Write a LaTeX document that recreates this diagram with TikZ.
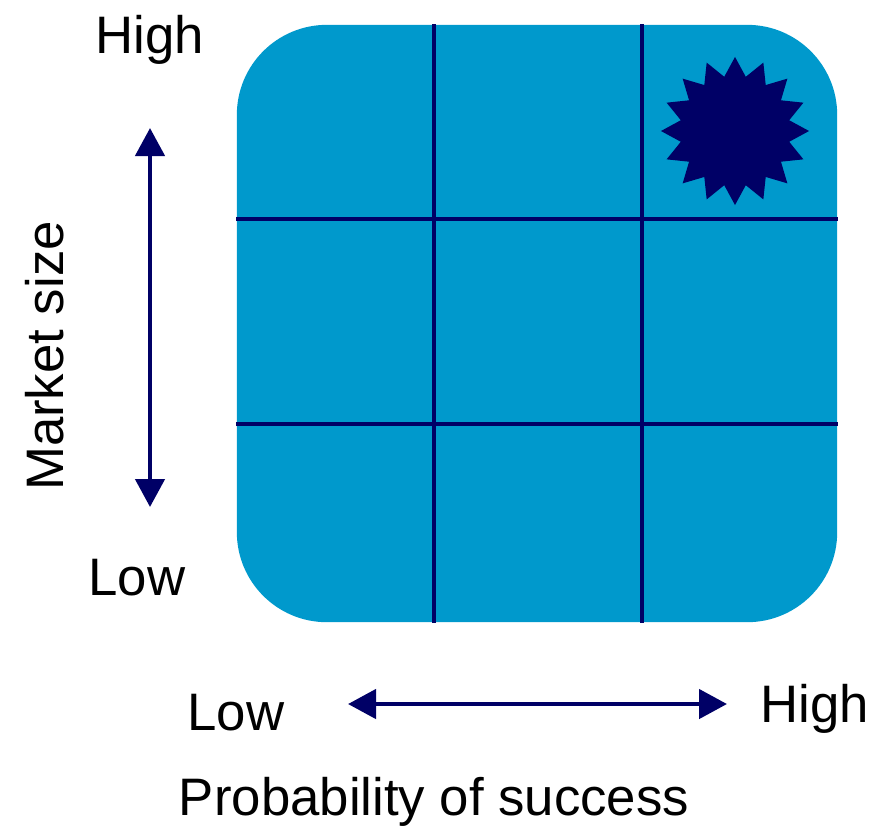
\documentclass[tikz,border=0pt]{standalone}
\usepackage{fontspec}
\setmainfont{Liberation Sans}
\usetikzlibrary{arrows.meta, shapes.geometric, calc}
\definecolor{boardblue}{HTML}{0099CC}
\definecolor{navy}{HTML}{000066}

\begin{document}
\begin{tikzpicture}[
  x=0.01cm, y=-0.01cm,
  every node/.style={font=\fontsize{15}{18}\selectfont, inner sep=0pt},
  board/.style={fill=boardblue, rounded corners=0.9cm, minimum width=6cm, minimum height=5.97cm},
  gridline/.style={navy, line width=1.15pt},
  axis/.style={{Triangle[length=0.28cm, width=0.29cm]}-{Triangle[length=0.28cm, width=0.29cm]}, navy, line width=1.3pt},
  burst/.style={star, star points=16, star point ratio=1.34, fill=navy, minimum size=1.48cm},
]
\useasboundingbox (0,0) rectangle (886,827);

% Board with 3x3 grid
\node[board] (board) at (537,323.5) {};
\draw[gridline] ($(board.north west)+(198,0)$) -- ($(board.south west)+(198,0)$);
\draw[gridline] ($(board.north west)+(406,0)$) -- ($(board.south west)+(406,0)$);
\draw[gridline] ($(board.north west)+(0,195)$) -- ($(board.north east)+(0,195)$);
\draw[gridline] ($(board.north west)+(0,400)$) -- ($(board.north east)+(0,400)$);

% Star in the top right cell
\node[burst] (star) at (735,131) {};

% Vertical axis
\coordinate (vtop) at (150,128);
\coordinate (vbot) at (150,507);
\draw[axis] (vtop) -- (vbot);
\node[anchor=base] (yhigh) at (150,53) {High};
\node[anchor=base] (ylow) at (137,595) {Low};
\node[rotate=90, anchor=base] (ylabel) at (63,356) {Market size};

% Horizontal axis
\coordinate (hleft) at (348,704);
\coordinate (hright) at (727,704);
\draw[axis] (hleft) -- (hright);
\node[anchor=base] (xlow) at (236,730) {Low};
\node[anchor=base] (xhigh) at (815,722) {High};
\node[anchor=base] (xlabel) at (434,815) {Probability of success};

\end{tikzpicture}
\end{document}
